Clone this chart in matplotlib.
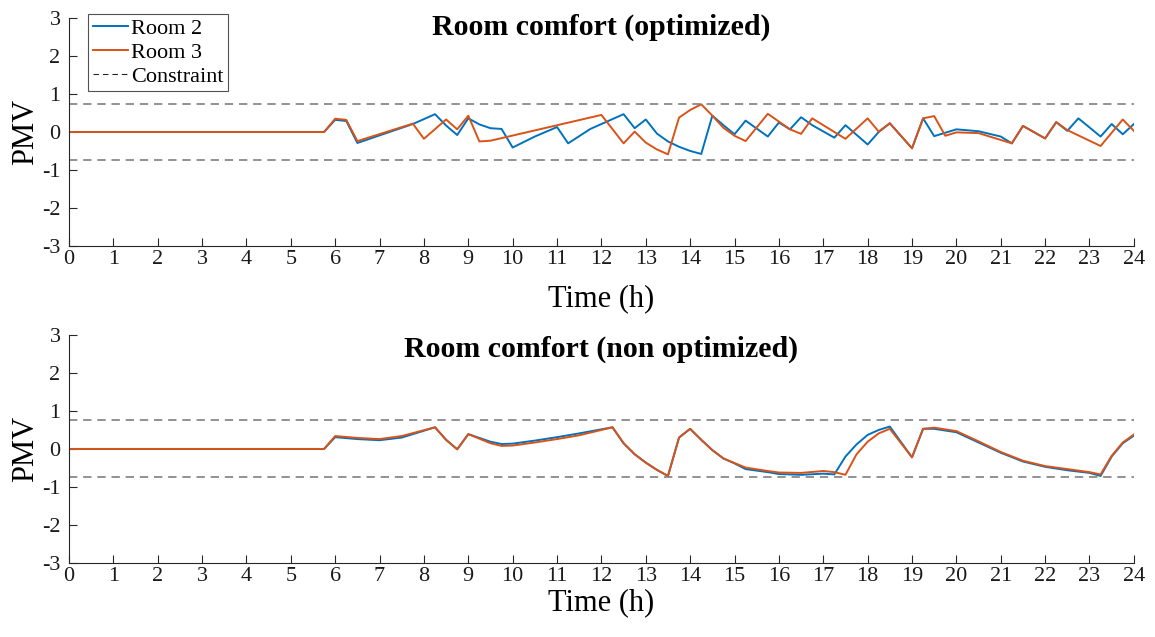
import matplotlib
matplotlib.use("Agg")
import matplotlib.pyplot as plt

# optimized case: vertices (hours, PMV)
t_opt_r2 = [0, 5.75, 6.0, 6.25, 6.5, 7.75, 8.25, 8.5, 8.75, 9.0, 9.25, 9.5, 9.75, 10.0,
            10.5, 11.0, 11.25, 11.75, 12.5, 12.75, 13.0, 13.25, 13.5, 13.75, 14.0, 14.25,
            14.5, 14.75, 15.0, 15.25, 15.75, 16.0, 16.25, 16.5, 16.75, 17.25, 17.5, 18.0,
            18.25, 18.5, 19.0, 19.25, 19.5, 20.0, 20.5, 21.0, 21.25, 21.5, 22.0, 22.25,
            22.5, 22.75, 23.25, 23.5, 23.75, 24.0]
pmv_opt_r2 = [0, 0, 0.32, 0.29, -0.29, 0.21, 0.47, 0.17, -0.08, 0.36, 0.20, 0.10, 0.08, -0.41,
              -0.12, 0.13, -0.30, 0.08, 0.47, 0.10, 0.33, -0.04, -0.25, -0.39, -0.50, -0.58,
              0.43, 0.18, -0.06, 0.30, -0.12, 0.25, 0.07, 0.39, 0.18, -0.15, 0.18, -0.33,
              0.0, 0.23, -0.43, 0.36, -0.11, 0.07, 0.02, -0.12, -0.30, 0.16, -0.17, 0.26,
              0.03, 0.36, -0.12, 0.21, -0.06, 0.21]

t_opt_r3 = [0, 5.75, 6.0, 6.25, 6.5, 7.75, 8.0, 8.5, 8.75, 9.0, 9.25, 9.5, 12.0, 12.5,
            12.75, 13.0, 13.25, 13.5, 13.75, 14.0, 14.25, 14.5, 14.75, 15.0, 15.25, 15.75,
            16.25, 16.5, 16.75, 17.5, 18.0, 18.25, 18.5, 19.0, 19.25, 19.5, 19.75, 20.0,
            20.5, 21.25, 21.5, 22.0, 22.25, 22.5, 23.25, 23.75, 24.0]
pmv_opt_r3 = [0, 0, 0.35, 0.32, -0.24, 0.22, -0.18, 0.33, 0.07, 0.43, -0.25, -0.23, 0.45, -0.30,
              0.01, -0.28, -0.46, -0.59, 0.38, 0.58, 0.73, 0.43, 0.11, -0.10, -0.24, 0.48,
              0.07, -0.05, 0.36, -0.18, 0.36, 0.01, 0.23, -0.43, 0.36, 0.42, -0.10, -0.01,
              -0.03, -0.30, 0.16, -0.17, 0.26, 0.05, -0.37, 0.33, 0.03]

# non optimized case
t_non = [0, 5.75, 6.0, 6.5, 7.0, 7.5, 8.25, 8.5, 8.75, 9.0, 9.5, 9.75, 10.0, 10.5, 11.0,
         11.5, 12.25, 12.5, 12.75, 13.0, 13.25, 13.5, 13.75, 14.0, 14.25, 14.5, 14.75, 15.0,
         15.25, 15.75, 16.0, 16.5, 17.0, 17.25, 17.5, 17.75, 18.0, 18.25, 18.5, 19.0, 19.25,
         19.5, 20.0, 20.5, 21.0, 21.5, 22.0, 22.5, 23.0, 23.25, 23.5, 23.75, 24.0]
pmv_non_r2 = [0, 0, 0.31, 0.26, 0.23, 0.30, 0.57, 0.24, -0.01, 0.39, 0.19, 0.13, 0.14, 0.22, 0.31,
              0.41, 0.57, 0.15, -0.14, -0.36, -0.55, -0.71, 0.30, 0.53, 0.24, -0.03, -0.25, -0.38,
              -0.53, -0.61, -0.66, -0.68, -0.65, -0.67, -0.20, 0.12, 0.37, 0.50, 0.59, -0.22, 0.53,
              0.53, 0.44, 0.17, -0.10, -0.33, -0.47, -0.56, -0.63, -0.71, -0.20, 0.15, 0.35]
pmv_non_r3 = [0, 0, 0.34, 0.29, 0.26, 0.34, 0.57, 0.24, -0.01, 0.39, 0.15, 0.08, 0.09, 0.17, 0.26,
              0.36, 0.57, 0.15, -0.14, -0.36, -0.55, -0.71, 0.30, 0.53, 0.24, -0.03, -0.25, -0.37,
              -0.49, -0.58, -0.62, -0.63, -0.58, -0.61, -0.68, -0.14, 0.19, 0.41, 0.53, -0.22, 0.53,
              0.56, 0.47, 0.20, -0.08, -0.31, -0.45, -0.53, -0.61, -0.67, -0.18, 0.17, 0.38]

limit = 0.75
titles = ["Room comfort (optimized)", "Room comfort (non optimized)"]

plt.rcParams['font.family'] = ['Liberation Serif', 'DejaVu Serif']
plt.rcParams['axes.unicode_minus'] = False
blue = '#0072BD'
orange = '#D95319'
axcol = '#262626'

fig = plt.figure(figsize=(11.55, 6.37), dpi=100)
ax1 = fig.add_axes([0.0597, 0.6143, 0.922, 0.357])
ax2 = fig.add_axes([0.0597, 0.1162, 0.922, 0.358])

panels = [(ax1, t_opt_r2, pmv_opt_r2, t_opt_r3, pmv_opt_r3),
          (ax2, t_non, pmv_non_r2, t_non, pmv_non_r3)]
title_y = [0.96, 0.935]
xlabel_y = [-0.17, -0.11]

for i, (ax, ta, ya, tb, yb) in enumerate(panels):
    ax.plot(ta, ya, color=blue, lw=1.4, label='Room 2')
    ax.plot(tb, yb, color=orange, lw=1.4, label='Room 3')
    ax.axhline(limit, color='#7f7f7f', lw=1.2, ls=(0, (5, 3.5)), label='Constraint')
    ax.axhline(-limit, color='#7f7f7f', lw=1.2, ls=(0, (5, 3.5)))
    ax.set_xlim(0, 24)
    ax.set_ylim(-3, 3)
    ax.set_xticks(range(0, 25))
    ax.set_yticks(range(-3, 4))
    ax.tick_params(direction='in', length=6, width=0.8, colors=axcol, labelsize=16,
                   labelcolor='#1a1a1a')
    ax.tick_params(axis='x', pad=3)
    ax.tick_params(axis='y', pad=6)
    for s in ['top', 'right']:
        ax.spines[s].set_visible(False)
    for s in ['left', 'bottom']:
        ax.spines[s].set_color(axcol)
        ax.spines[s].set_linewidth(0.8)
    ax.set_xlabel('Time (h)', fontsize=22)
    ax.xaxis.set_label_coords(0.5, xlabel_y[i])
    ax.set_ylabel('PMV', fontsize=22)
    ax.yaxis.set_label_coords(-0.027, 0.5)
    ax.text(0.5, title_y[i], titles[i], transform=ax.transAxes, ha='center', va='center',
            fontsize=21.5, fontweight='bold')

leg = ax1.legend(loc='upper left', bbox_to_anchor=(0.018, 1.018), fontsize=16,
                 frameon=True, fancybox=False, edgecolor=axcol, handlelength=1.6,
                 handletextpad=0.15, borderpad=0.2, labelspacing=0.15, borderaxespad=0)
leg.get_frame().set_linewidth(0.8)
leg.get_lines()[2].set_color(axcol)
leg.get_lines()[2].set_linewidth(0.8)

fig.savefig('out.png', dpi=100)
